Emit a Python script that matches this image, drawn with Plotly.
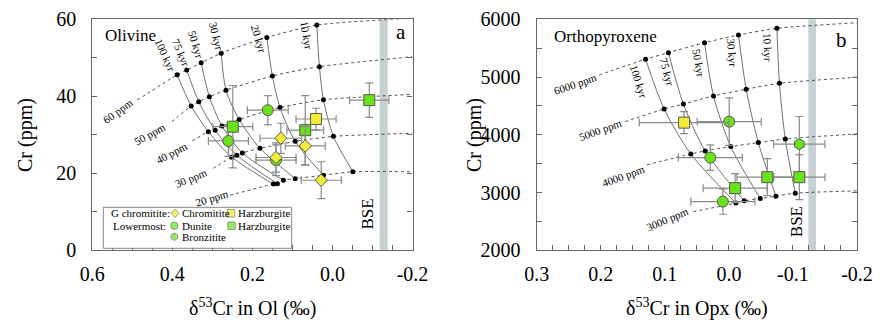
import plotly.graph_objects as go

# ---------------- Panel a : olivine model grid ----------------
ol_ages = ["10 kyr", "20 kyr", "30 kyr", "50 kyr", "75 kyr", "100 kyr"]
ol_ppm = ["60 ppm", "50 ppm", "40 ppm", "30 ppm", "20 ppm"]
ol_grid_d = [
    [0.039, 0.164, 0.278, 0.328, 0.364, 0.388],
    [0.0325, 0.150, 0.266, 0.3075, 0.334, 0.353],
    [0.0225, 0.131, 0.233, 0.276, 0.293, 0.310],
    [-0.0025, 0.093, 0.181, 0.225, 0.239, 0.2515],
    [-0.051, 0.0225, 0.093, 0.1225, 0.1375, 0.1475],
]
ol_grid_cr = [
    [58.5, 55.3, 51.2, 48.7, 46.8, 45.6],
    [47.7, 45.3, 41.6, 39.9, 38.6, 37.5],
    [39.1, 37.1, 34.0, 32.3, 31.2, 30.8],
    [29.6, 28.3, 26.5, 25.3, 24.7, 24.2],
    [20.4, 19.5, 18.6, 18.2, 17.3, 17.2],
]
ol_start_d = [0.488, 0.4015, 0.35, 0.298, 0.256]
ol_start_cr = [39.0, 33.4, 28.4, 21.3, 14.3]
ol_end_d = [-0.2, -0.2, -0.2, -0.2, -0.2]
ol_end_cr = [60.3, 50.3, 40.5, 30.4, 20.4]
ol_bse = [-0.118, -0.138]

# olivine samples
ol_chromitite_d = [0.129, 0.141, 0.068, 0.028]
ol_chromitite_cr = [29.1, 24.1, 27.1, 18.2]
ol_chromitite_derr = [0.052, 0.05, 0.05, 0.05]
ol_chromitite_crerr = [3.9, 3.8, 5.0, 4.8]

ol_gharz_d = [0.041]
ol_gharz_cr = [34.1]
ol_gharz_derr = [0.05]
ol_gharz_crerr = [2.8]

ol_dunite_d = [0.1615, 0.26, 0.141]
ol_dunite_cr = [36.4, 28.4, 23.4]
ol_dunite_derr = [0.051, 0.05, 0.05]
ol_dunite_crerr = [3.8, 4.0, 4.0]

ol_lharz_d = [-0.092, 0.068, 0.249]
ol_lharz_cr = [39.0, 31.2, 32.1]
ol_lharz_derr = [0.049, 0.046, 0.05]
ol_lharz_crerr = [4.5, 9.0, 10.7]

ol_xticks = [0.6, 0.4, 0.2, 0.0, -0.2]
ol_xtext = ["0.6", "0.4", "0.2", "0.0", "-0.2"]
ol_yticks = [0, 20, 40, 60]
ol_ytext = ["0", "20", "40", "60"]

# ---------------- Panel b : orthopyroxene model grid ----------------
opx_ages = ["10 kyr", "30 kyr", "50 kyr", "75 kyr", "100 kyr"]
opx_ppm = ["6000 ppm", "5000 ppm", "4000 ppm", "3000 ppm"]
opx_grid_d = [
    [-0.075, -0.015, 0.038, 0.0944, 0.130],
    [-0.079, -0.027, 0.024, 0.071, 0.101],
    [-0.088, -0.046, -0.003, 0.037, 0.0594],
    [-0.1036, -0.0734, -0.049, -0.024, -0.011],
]
opx_grid_cr = [
    [5844, 5728, 5595, 5422, 5308],
    [4893, 4789, 4673, 4534, 4448],
    [3929, 3865, 3796, 3721, 3669],
    [2990, 2938, 2896, 2856, 2817],
]
opx_start_d = [0.2026, 0.162, 0.128, 0.0553]
opx_start_cr = [5036, 4228, 3479, 2671]
opx_end_d = [-0.2, -0.2, -0.2, -0.2]
opx_end_cr = [5941, 4996, 4015, 3029]
opx_bse = [-0.124, -0.136]

opx_gharz_d = [0.0699]
opx_gharz_cr = [4211]
opx_gharz_derr = [0.07]
opx_gharz_crerr = [190]

opx_dunite_d = [-0.0005, 0.029, 0.0094]
opx_dunite_cr = [4228, 3605, 2844]
opx_dunite_derr = [0.05, 0.05, 0.05]
opx_dunite_crerr = [410, 220, 220]

opx_bronz_d = [-0.11]
opx_bronz_cr = [3837]
opx_bronz_derr = [0.04]
opx_bronz_crerr = [480]

opx_lharz_d = [-0.11, -0.06, -0.0098]
opx_lharz_cr = [3266, 3266, 3076]
opx_lharz_derr = [0.04, 0.0475, 0.05]
opx_lharz_crerr = [390, 320, 250]

opx_xticks = [0.3, 0.2, 0.1, 0.0, -0.1, -0.2]
opx_xtext = ["0.3", "0.2", "0.1", "0.0", "-0.1", "-0.2"]
opx_yticks = [2000, 3000, 4000, 5000, 6000]
opx_ytext = ["2000", "3000", "4000", "5000", "6000"]

# ---------------- styling ----------------
W, H = 882, 323
FONT = "Liberation Serif, Times New Roman, serif"
YELLOW = "#f2ee35"
GREEN = "#6ae21a"
EDGE = "#555555"
ERR = "#8a8a8a"
AXC = "#666666"
BSEC = "#c7d1d4"

fig = go.Figure()


def add_grid(xa, ya, gd, gc, sd, sc, ed, ec):
    nrow, ncol = len(gd), len(gd[0])
    for i in range(nrow):
        xs = [sd[i]] + gd[i][::-1] + [ed[i]]
        ys = [sc[i]] + gc[i][::-1] + [ec[i]]
        fig.add_trace(go.Scatter(x=xs, y=ys, mode="lines", xaxis=xa, yaxis=ya,
                                 line=dict(color="#222222", width=0.8, dash="3px,3px",
                                           shape="spline", smoothing=0.6),
                                 showlegend=False, hoverinfo="skip"))
    for j in range(ncol):
        xs = [gd[i][j] for i in range(nrow)]
        ys = [gc[i][j] for i in range(nrow)]
        fig.add_trace(go.Scatter(x=xs, y=ys, mode="lines", xaxis=xa, yaxis=ya,
                                 line=dict(color="#707070", width=1, shape="spline", smoothing=0.8),
                                 showlegend=False, hoverinfo="skip"))
    fig.add_trace(go.Scatter(x=[v for r in gd for v in r], y=[v for r in gc for v in r],
                             mode="markers", xaxis=xa, yaxis=ya,
                             marker=dict(color="black", size=5),
                             showlegend=False, hoverinfo="skip"))


def add_pts(xa, ya, d, c, de, ce, symbol, color, size):
    fig.add_trace(go.Scatter(
        x=d, y=c, mode="markers", xaxis=xa, yaxis=ya, showlegend=False,
        error_x=dict(type="data", array=de, color=ERR, thickness=1.2, width=4),
        error_y=dict(type="data", array=ce, color=ERR, thickness=1.2, width=4),
        marker=dict(symbol=symbol, size=size, color=color, line=dict(color=EDGE, width=1))))


add_grid("x", "y", ol_grid_d, ol_grid_cr, ol_start_d, ol_start_cr, ol_end_d, ol_end_cr)
add_pts("x", "y", ol_dunite_d, ol_dunite_cr, ol_dunite_derr, ol_dunite_crerr, "circle", GREEN, 11)
add_pts("x", "y", ol_lharz_d, ol_lharz_cr, ol_lharz_derr, ol_lharz_crerr, "square", GREEN, 11)
add_pts("x", "y", ol_gharz_d, ol_gharz_cr, ol_gharz_derr, ol_gharz_crerr, "square", YELLOW, 11)
add_pts("x", "y", ol_chromitite_d, ol_chromitite_cr, ol_chromitite_derr, ol_chromitite_crerr, "diamond", YELLOW, 9.5)

add_grid("x2", "y2", opx_grid_d, opx_grid_cr, opx_start_d, opx_start_cr, opx_end_d, opx_end_cr)
add_pts("x2", "y2", opx_dunite_d, opx_dunite_cr, opx_dunite_derr, opx_dunite_crerr, "circle", GREEN, 11)
add_pts("x2", "y2", opx_bronz_d, opx_bronz_cr, opx_bronz_derr, opx_bronz_crerr, "hexagon", GREEN, 11)
add_pts("x2", "y2", opx_lharz_d, opx_lharz_cr, opx_lharz_derr, opx_lharz_crerr, "square", GREEN, 11)
add_pts("x2", "y2", opx_gharz_d, opx_gharz_cr, opx_gharz_derr, opx_gharz_crerr, "square", YELLOW, 11)

# legend symbols on a pixel overlay axis
leg_sym_x = [175, 231, 174.3, 231.5, 174.3]
leg_sym_y = [213.3, 213.3, 225.7, 225.7, 236.7]
leg_sym = ["diamond", "square", "circle", "square", "hexagon"]
leg_col = [YELLOW, YELLOW, GREEN, GREEN, GREEN]
leg_size = [6.5, 7.5, 7.5, 7.5, 7.5]
fig.add_trace(go.Scatter(x=leg_sym_x, y=leg_sym_y, mode="markers", xaxis="x3", yaxis="y3",
                         marker=dict(symbol=leg_sym, color=leg_col, size=leg_size,
                                     line=dict(color=EDGE, width=0.8)),
                         showlegend=False, hoverinfo="skip"))

ax_common = dict(showgrid=False, zeroline=False, showline=True, linecolor=AXC, linewidth=1.3,
                 ticks="inside", ticklen=5, tickcolor=AXC, tickwidth=1,
                 tickfont=dict(family=FONT, size=20, color="black"), automargin=False)

ydom = [1 - 250.3 / H, 1 - 19.3 / H]
fig.update_layout(
    width=W, height=H, margin=dict(l=0, r=0, t=0, b=0),
    paper_bgcolor="white", plot_bgcolor="rgba(0,0,0,0)",
    font=dict(family=FONT, color="black"),
    xaxis=dict(domain=[92.3 / W, 412.5 / W], range=[0.6, -0.2], anchor="y",
               tickmode="array", tickvals=ol_xticks, ticktext=ol_xtext, mirror=True,
               minor=dict(dtick=0.05, tick0=0, ticks="inside", ticklen=5, tickcolor=AXC),
               ticklabelstandoff=6, **ax_common),
    yaxis=dict(domain=ydom, range=[0, 60], anchor="x",
               tickmode="array", tickvals=ol_yticks, ticktext=ol_ytext, mirror="ticks",
               minor=dict(dtick=10, tick0=0, ticks="inside", ticklen=5, tickcolor=AXC),
               ticklabelstandoff=11, **ax_common),
    xaxis2=dict(domain=[536.7 / W, 857 / W], range=[0.3, -0.2], anchor="y2",
                tickmode="array", tickvals=opx_xticks, ticktext=opx_xtext, mirror=True,
                minor=dict(dtick=0.025, tick0=0, ticks="inside", ticklen=5, tickcolor=AXC),
                ticklabelstandoff=6, **ax_common),
    yaxis2=dict(domain=ydom, range=[2000, 6000], anchor="x2",
                tickmode="array", tickvals=opx_yticks, ticktext=opx_ytext, mirror="ticks",
                minor=dict(dtick=500, tick0=0, ticks="inside", ticklen=5, tickcolor=AXC),
                ticklabelstandoff=11, **ax_common),
    xaxis3=dict(domain=[0, 1], range=[0, W], visible=False, anchor="y3", fixedrange=True),
    yaxis3=dict(domain=[0, 1], range=[H, 0], visible=False, anchor="x3", fixedrange=True),
)

shapes = [
    dict(type="rect", xref="x", yref="y domain", x0=ol_bse[0], x1=ol_bse[1], y0=0, y1=1,
         fillcolor=BSEC, line=dict(width=0), layer="below"),
    dict(type="rect", xref="x2", yref="y2 domain", x0=opx_bse[0], x1=opx_bse[1], y0=0, y1=1,
         fillcolor=BSEC, line=dict(width=0), layer="below"),
    dict(type="rect", xref="x3", yref="y3", x0=103.3, x1=291.7, y0=207.3, y1=248.3,
         fillcolor="white", line=dict(color="#888888", width=1), layer="below"),
]
fig.update_layout(shapes=shapes)

ann = []


def txt(x, y, s, size, xref="x3", yref="y3", angle=0, xanchor="center", yanchor="middle"):
    ann.append(dict(x=x, y=y, xref=xref, yref=yref, text=s, showarrow=False, textangle=angle,
                    xanchor=xanchor, yanchor=yanchor,
                    font=dict(family=FONT, size=size, color="black")))


# time labels and ppm labels (panel a)
ol_age_pos = [(0.064, 55.7, 80), (0.183, 55.0, 73), (0.289, 55.5, 76),
              (0.341, 53.3, 73), (0.379, 51.2, 67), (0.418, 50.7, 66)]
for lab, (x, y, a) in zip(ol_ages, ol_age_pos):
    txt(x, y, lab, 11, "x", "y", a)
ol_ppm_pos = [(0.536, 36.2, -36), (0.456, 30.2, -29), (0.402, 25.2, -28),
              (0.353, 18.9, -22), (0.301, 13.7, -17)]
for lab, (x, y, a) in zip(ol_ppm, ol_ppm_pos):
    txt(x, y, lab, 11, "x", "y", a)

opx_age_pos = [(-0.06, 5512, 88), (-0.0047, 5412, 85), (0.0475, 5238, 80),
               (0.097, 5080, 75), (0.141, 4932, 72)]
for lab, (x, y, a) in zip(opx_ages, opx_age_pos):
    txt(x, y, lab, 11, "x2", "y2", a)
opx_ppm_pos = [(0.24, 4881, -19), (0.201, 4085, -20), (0.165, 3289, -20), (0.0957, 2545, -23)]
for lab, (x, y, a) in zip(opx_ppm, opx_ppm_pos):
    txt(x, y, lab, 11, "x2", "y2", a)

# BSE labels
txt(366.5, 214, "BSE", 17, angle=-90)
txt(796.7, 221.5, "BSE", 17, angle=-90)

# panel titles
txt(103, 35, "Olivine", 17, xanchor="left")
txt(401, 32, "a", 21)
txt(552, 36, "Orthopyroxene", 17, xanchor="left")
txt(841, 40, "b", 21)

# axis titles
txt(25, 135, "Cr (ppm)", 20, angle=-90)
txt(474, 135, "Cr (ppm)", 20, angle=-90)
txt(252, 307, "δ<sup>53</sup>Cr in Ol (‰)", 20)
txt(697, 307, "δ<sup>53</sup>Cr in Opx (‰)", 20)

# legend texts
txt(108.5, 213.3, "G chromitite:", 11, xanchor="left")
txt(179.8, 213.3, "Chromitite", 11, xanchor="left")
txt(235.5, 213.3, "Harzburgite", 11, xanchor="left")
txt(110.5, 225.7, "Lowermost:", 11, xanchor="left")
txt(179.8, 225.7, "Dunite", 11, xanchor="left")
txt(235.5, 225.7, "Harzburgite", 11, xanchor="left")
txt(179.8, 236.7, "Bronzitite", 11, xanchor="left")

fig.update_layout(annotations=ann)
fig.write_html("out.html", config={"displayModeBar": False},
               post_script="document.body.style.margin='0';document.body.style.padding='0';")
